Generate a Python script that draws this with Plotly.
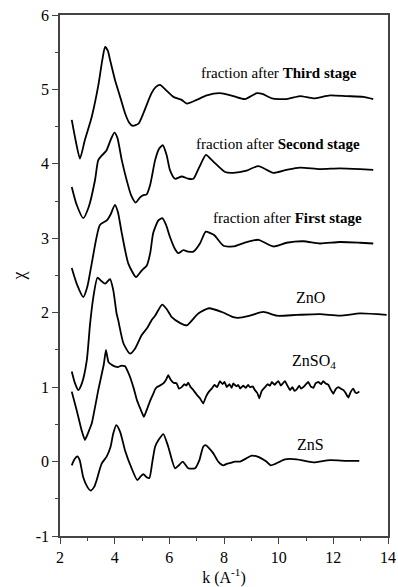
import plotly.graph_objects as go

# ---- data ----
k_third = [2.43, 2.58, 2.73, 2.91, 3.16, 3.40, 3.55, 3.65, 3.75, 3.83, 4.01, 4.20, 4.38, 4.52, 4.66, 4.87, 5.05, 5.20, 5.35, 5.50, 5.66, 5.85, 6.15, 6.45, 6.64, 7.00, 7.37, 7.85, 8.34, 8.77, 9.20, 9.40, 9.75, 10.29, 10.78, 11.27, 11.88, 12.49, 13.10, 13.46]
chi_third = [4.59, 4.30, 4.07, 4.32, 4.63, 5.05, 5.40, 5.57, 5.52, 5.40, 5.13, 4.90, 4.68, 4.56, 4.51, 4.54, 4.68, 4.82, 4.95, 5.03, 5.06, 5.00, 4.90, 4.86, 4.81, 4.86, 4.92, 4.95, 4.91, 4.87, 4.95, 4.94, 4.88, 4.87, 4.91, 4.88, 4.92, 4.91, 4.90, 4.87]

k_second = [2.43, 2.61, 2.85, 3.05, 3.28, 3.40, 3.55, 3.70, 3.85, 3.99, 4.10, 4.26, 4.44, 4.60, 4.77, 4.93, 5.05, 5.17, 5.30, 5.48, 5.62, 5.76, 5.90, 6.02, 6.21, 6.45, 6.70, 6.88, 7.10, 7.34, 7.50, 7.67, 8.04, 8.34, 8.83, 9.26, 9.80, 10.29, 10.78, 11.51, 12.24, 12.98, 13.46]
chi_second = [3.69, 3.45, 3.27, 3.42, 3.78, 4.05, 4.12, 4.18, 4.32, 4.42, 4.35, 4.05, 3.78, 3.58, 3.48, 3.55, 3.58, 3.59, 3.72, 4.05, 4.20, 4.25, 4.12, 3.92, 3.80, 3.83, 3.80, 3.80, 3.96, 4.12, 4.07, 4.01, 3.89, 3.88, 3.91, 3.97, 3.88, 3.92, 3.95, 3.93, 3.94, 3.93, 3.92]

k_first = [2.43, 2.62, 2.85, 3.00, 3.16, 3.46, 3.71, 3.85, 4.01, 4.12, 4.26, 4.50, 4.78, 4.95, 5.05, 5.17, 5.30, 5.41, 5.60, 5.74, 5.88, 6.02, 6.20, 6.33, 6.51, 6.70, 6.88, 7.12, 7.33, 7.50, 7.65, 7.98, 8.34, 8.83, 9.26, 9.80, 10.29, 10.90, 11.51, 12.24, 12.98, 13.46]
chi_first = [2.60, 2.38, 2.21, 2.35, 2.66, 3.18, 3.24, 3.32, 3.45, 3.35, 3.07, 2.66, 2.48, 2.55, 2.59, 2.63, 2.80, 3.07, 3.24, 3.27, 3.18, 3.02, 2.86, 2.80, 2.84, 2.82, 2.82, 2.93, 3.09, 3.07, 3.04, 2.90, 2.89, 2.95, 2.98, 2.89, 2.94, 2.96, 2.93, 2.95, 2.94, 2.93]

k_zno = [2.43, 2.55, 2.67, 2.80, 2.98, 3.10, 3.22, 3.37, 3.50, 3.65, 3.83, 3.95, 4.07, 4.13, 4.32, 4.56, 4.75, 4.99, 5.20, 5.35, 5.48, 5.74, 5.90, 6.09, 6.40, 6.64, 7.06, 7.45, 7.92, 8.34, 8.52, 8.95, 9.44, 9.93, 10.66, 11.51, 12.24, 12.98, 13.95]
chi_zno = [1.21, 1.05, 0.96, 1.05, 1.36, 1.85, 2.21, 2.47, 2.43, 2.39, 2.45, 2.30, 1.99, 1.90, 1.59, 1.45, 1.52, 1.70, 1.80, 1.90, 1.96, 2.11, 2.05, 1.94, 1.86, 1.83, 1.99, 2.06, 2.01, 1.94, 1.93, 1.96, 2.01, 1.96, 1.97, 1.98, 1.96, 1.99, 1.97]

k_znso4 = [2.43, 2.61, 2.79, 2.91, 3.16, 3.40, 3.60, 3.68, 3.77, 3.89, 4.00, 4.13, 4.25, 4.38, 4.47, 4.56, 4.70, 4.81, 4.95, 5.07, 5.20, 5.30, 5.41, 5.48, 5.54, 5.65, 5.78, 5.88, 5.96, 6.05, 6.15, 6.27, 6.35, 6.45, 6.55, 6.62, 6.69, 6.78, 6.88, 7.00, 7.12, 7.24, 7.35, 7.45, 7.55, 7.65, 7.75, 7.85, 7.95, 8.02, 8.10, 8.20, 8.28, 8.34, 8.45, 8.52, 8.59, 8.70, 8.80, 8.88, 8.95, 9.05, 9.13, 9.22, 9.29, 9.38, 9.50, 9.60, 9.68, 9.75, 9.85, 9.92, 9.99, 10.08, 10.15, 10.23, 10.32, 10.42, 10.50, 10.58, 10.66, 10.75, 10.82, 10.90, 11.00, 11.08, 11.17, 11.27, 11.35, 11.45, 11.55, 11.63, 11.72, 11.82, 11.90, 12.00, 12.08, 12.18, 12.27, 12.37, 12.45, 12.55, 12.63, 12.73, 12.80, 12.86, 12.95]
chi_znso4 = [0.94, 0.69, 0.42, 0.29, 0.51, 0.96, 1.30, 1.50, 1.34, 1.30, 1.28, 1.27, 1.29, 1.28, 1.22, 1.14, 0.98, 0.83, 0.70, 0.60, 0.72, 0.82, 0.91, 0.97, 1.00, 1.02, 1.05, 1.10, 1.16, 1.10, 1.06, 1.05, 0.98, 1.00, 1.04, 1.02, 1.06, 1.00, 0.96, 0.90, 0.85, 0.78, 0.88, 0.94, 0.98, 1.03, 1.00, 1.08, 1.04, 1.07, 1.00, 1.04, 0.99, 1.05, 1.01, 1.03, 0.98, 1.02, 0.99, 1.03, 1.00, 1.01, 0.96, 0.92, 0.85, 0.95, 1.00, 1.04, 1.02, 1.07, 1.03, 1.06, 1.08, 1.02, 1.05, 1.08, 1.02, 0.96, 1.00, 0.95, 0.97, 1.02, 0.98, 1.00, 1.04, 1.07, 1.01, 0.99, 1.05, 1.07, 1.04, 1.08, 1.05, 1.03, 0.97, 0.91, 0.97, 1.00, 0.98, 0.96, 0.92, 0.86, 0.93, 0.98, 0.93, 0.92, 0.94]

k_zns = [2.43, 2.53, 2.63, 2.72, 2.85, 3.00, 3.12, 3.25, 3.34, 3.52, 3.71, 3.85, 3.95, 4.06, 4.20, 4.38, 4.62, 4.83, 4.95, 5.05, 5.17, 5.27, 5.38, 5.48, 5.62, 5.78, 5.96, 6.21, 6.35, 6.49, 6.69, 6.94, 7.10, 7.24, 7.33, 7.45, 7.61, 7.79, 7.98, 8.10, 8.22, 8.40, 8.59, 8.80, 9.01, 9.20, 9.38, 9.55, 9.71, 9.88, 10.05, 10.23, 10.66, 11.27, 11.88, 12.49, 12.95]
chi_zns = [-0.05, 0.03, 0.07, 0.02, -0.21, -0.34, -0.39, -0.34, -0.25, -0.03, 0.07, 0.20, 0.38, 0.49, 0.40, 0.15, -0.09, -0.25, -0.20, -0.17, -0.21, -0.22, 0.00, 0.20, 0.30, 0.37, 0.20, -0.09, -0.05, 0.00, -0.09, -0.09, 0.02, 0.20, 0.22, 0.18, 0.11, 0.00, -0.05, -0.03, -0.02, 0.00, 0.00, 0.04, 0.08, 0.07, 0.04, 0.00, -0.05, -0.03, 0.00, 0.03, 0.03, -0.01, 0.02, 0.01, 0.01]

labels = ["fraction after <b>Third stage</b>", "fraction after <b>Second stage</b>",
          "fraction after <b>First stage</b>", "ZnO", "ZnSO<sub>4</sub>", "ZnS"]
label_k = [10.01, 9.98, 10.34, 11.18, 11.30, 11.15]
label_chi = [5.22, 4.27, 3.27, 2.21, 1.34, 0.23]
label_size = [15, 15, 15, 16, 16, 16]

x_ticks = [2, 4, 6, 8, 10, 12, 14]
y_ticks = [-1, 0, 1, 2, 3, 4, 5, 6]

FONT = "Liberation Serif"

fig = go.Figure()
series = [(k_third, chi_third, 0.6), (k_second, chi_second, 0.6), (k_first, chi_first, 0.6),
          (k_zno, chi_zno, 0.6), (k_znso4, chi_znso4, 0.3), (k_zns, chi_zns, 0.6)]
for kx, cy, sm in series:
    fig.add_trace(go.Scatter(x=kx, y=cy, mode="lines",
                             line=dict(color="black", width=1.8, shape="spline", smoothing=sm),
                             showlegend=False, hoverinfo="skip"))

for t, xk, yc, fs in zip(labels, label_k, label_chi, label_size):
    fig.add_annotation(x=xk, y=yc, text=t, showarrow=False, xanchor="center", yanchor="middle",
                       font=dict(family=FONT, size=fs, color="black"))

axis_common = dict(showline=True, linecolor="#444", linewidth=1.5, mirror=True,
                   ticks="outside", ticklen=6, tickwidth=1.2, tickcolor="#444",
                   showgrid=False, zeroline=False,
                   tickfont=dict(family=FONT, size=16, color="black"))

fig.update_xaxes(range=[2, 14], tickvals=x_ticks, ticktext=[str(v) for v in x_ticks],
                 minor=dict(dtick=1, ticks="outside", ticklen=3, tickcolor="#444", tickwidth=1.2),
                 title=dict(text="k (A<sup>-1</sup>)", font=dict(family=FONT, size=16, color="black"), standoff=4),
                 **axis_common)
fig.update_yaxes(range=[-1, 6], tickvals=y_ticks, ticktext=[str(v) for v in y_ticks],
                 minor=dict(dtick=0.5, ticks="outside", ticklen=3, tickcolor="#444", tickwidth=1.2),
                 title=dict(text="χ", font=dict(family=FONT, size=18, color="black"), standoff=5),
                 **axis_common)

fig.update_layout(width=398, height=587, margin=dict(l=60, r=10, t=15, b=51, autoexpand=False),
                  plot_bgcolor="white", paper_bgcolor="white",
                  font=dict(family=FONT, color="black"))

fig.write_html("out.html")
